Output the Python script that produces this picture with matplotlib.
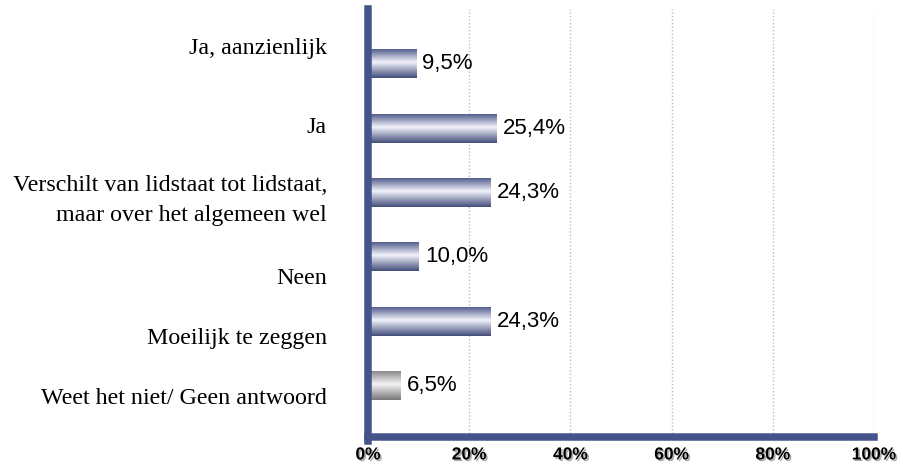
"""Horizontal bar chart with gradient-filled bars (survey answers)."""
import numpy as np
import matplotlib

matplotlib.use("Agg")
import matplotlib.pyplot as plt  # noqa: E402
from matplotlib.colors import LinearSegmentedColormap  # noqa: E402
import matplotlib.patheffects as pe  # noqa: E402

CATEGORIES = [
    "Ja, aanzienlijk",
    "Ja",
    "Verschilt van lidstaat tot lidstaat,\nmaar over het algemeen wel",
    "Neen",
    "Moeilijk te zeggen",
    "Weet het niet/ Geen antwoord",
]
VALUES = [9.5, 25.4, 24.3, 10.0, 24.3, 6.5]
X_TICKS = [0, 20, 40, 60, 80, 100]
X_TICK_LABELS = ["0%", "20%", "40%", "60%", "80%", "100%"]

# styling / layout (not data)
BAR_STYLE = ["blue", "blue", "blue", "blue", "blue", "gray"]
LABEL_SHIFT_PX = [-15.5, -0.5, 7.5, 21.5, 17.5, 12.5]
SPINE_COLOR = "#44548a"
BAR_HEIGHT = 0.45

CMAPS = {
    "blue": LinearSegmentedColormap.from_list(
        "bluebar", [(0.0, "#56608e"), (0.45, "#f2f3fa"), (1.0, "#434e7c")]
    ),
    "gray": LinearSegmentedColormap.from_list(
        "graybar", [(0.0, "#8a8a8a"), (0.45, "#f4f4f4"), (1.0, "#787878")]
    ),
}

W, H = 904, 466
fig = plt.figure(figsize=(W / 100, H / 100), dpi=100)
left, right, top, bottom = 368, 874, 9.3, 437
ax = fig.add_axes([left / W, 1 - bottom / H, (right - left) / W, (bottom - top) / H])

ylim = (5.8, -0.85)
grad = np.linspace(0, 1, 64).reshape(-1, 1)
ypos = np.arange(len(VALUES))
for y, v, style in zip(ypos, VALUES, BAR_STYLE):
    ax.imshow(
        grad,
        extent=(0, v, y + BAR_HEIGHT / 2, y - BAR_HEIGHT / 2),
        aspect="auto",
        cmap=CMAPS[style],
        interpolation="bilinear",
        zorder=3,
    )
    ax.annotate(
        f"{v:.1f}".replace(".", ",") + "%",
        xy=(v, y),
        xytext=(4.5, 0),
        textcoords="offset points",
        va="center",
        ha="left",
        fontsize=16,
        family="Liberation Sans",
        color="black",
        zorder=4,
    )

# category labels, drawn to the left of the axis
for y, label, shift in zip(ypos, CATEGORIES, LABEL_SHIFT_PX):
    ax.annotate(
        label,
        xy=(0, y),
        xycoords=("axes fraction", "data"),
        xytext=(-(left - 327) * 0.72, -shift * 0.72),
        textcoords="offset points",
        ha="right",
        va="center",
        multialignment="right",
        fontsize=17.3,
        family="Liberation Serif",
        linespacing=1.55,
    )

ax.set_xlim(0, 100)
ax.set_ylim(*ylim)
ax.set_yticks([])
ax.set_xticks(X_TICKS)
ax.set_xticklabels(X_TICK_LABELS)
ax.tick_params(axis="x", length=0, pad=7.5)
for lab in ax.get_xticklabels():
    lab.set_fontfamily("Liberation Sans")
    lab.set_fontweight("bold")
    lab.set_fontsize(12.5)
    lab.set_path_effects(
        [pe.withSimplePatchShadow(offset=(1.2, -1.2), shadow_rgbFace="#888888", alpha=0.7)]
    )

for x in X_TICKS[1:]:
    ax.axvline(x, color="#b8bccc", linewidth=1.0, linestyle=(0, (1.0, 1.5)), zorder=1)

for side in ("top", "right"):
    ax.spines[side].set_visible(False)
spine_w = 7.5 * 0.72
for side in ("left", "bottom"):
    ax.spines[side].set_color(SPINE_COLOR)
    ax.spines[side].set_linewidth(spine_w)
    ax.spines[side].set_zorder(5)
# extend the left spine down so the corner is filled
px_per_unit = (bottom - top) / (ylim[0] - ylim[1])
ax.spines["left"].set_bounds(ylim[0] + 3.75 / px_per_unit, ylim[1])

fig.savefig("out.png", dpi=100)
